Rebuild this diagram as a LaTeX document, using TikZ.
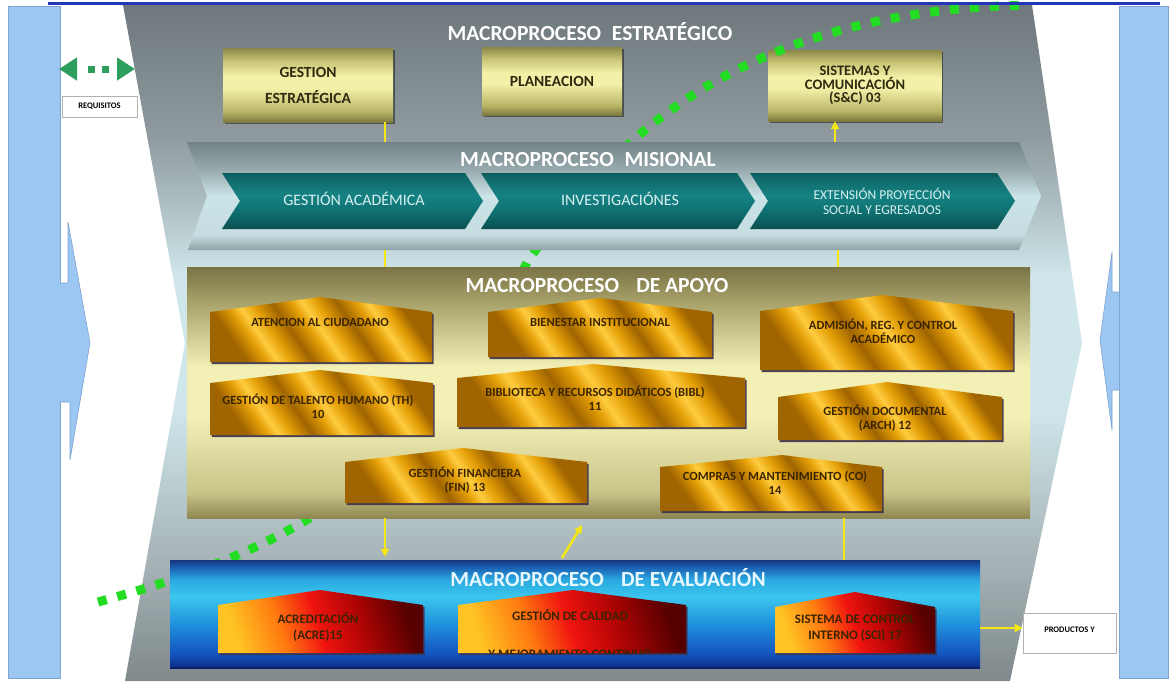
\documentclass[tikz,border=0pt]{standalone}
\usepackage{fontspec}
\setmainfont{Carlito}
\usetikzlibrary{arrows.meta,shadows}

\definecolor{panelblue}{HTML}{9DC7F3}
\definecolor{paneledge}{HTML}{7FA3CF}
\definecolor{topline}{HTML}{2236B8}
\definecolor{reqgreen}{HTML}{2E9E5E}
\definecolor{dotgreen}{HTML}{22DD22}
\definecolor{linkyellow}{HTML}{F3E814}
\definecolor{boxtext}{HTML}{2E2A10}
\definecolor{chevtext}{HTML}{D9F0F0}
\definecolor{housetxt}{HTML}{3A2400}
\definecolor{shadowc}{HTML}{3A2E4A}
\definecolor{evalline}{HTML}{0A1F6A}
% gray main shape
\definecolor{gsA}{HTML}{7F898C}\definecolor{gsB}{HTML}{A3AFB2}
\definecolor{gsC}{HTML}{CFE6EA}\definecolor{gsD}{HTML}{909CA0}
\definecolor{gsE}{HTML}{6E787C}
% misional band
\definecolor{msA}{HTML}{8FA1A4}\definecolor{msB}{HTML}{C5DDE0}
\definecolor{msC}{HTML}{CBE4E7}\definecolor{msD}{HTML}{98ABAF}
\definecolor{msE}{HTML}{728286}
% teal chevrons
\definecolor{tcA}{HTML}{0A4E4F}\definecolor{tcB}{HTML}{0F6F70}
\definecolor{tcC}{HTML}{158283}\definecolor{tcD}{HTML}{106A6B}
\definecolor{tcE}{HTML}{0D5C5D}
% top boxes
\definecolor{tbA}{HTML}{7D7A3E}\definecolor{tbB}{HTML}{B9B567}
\definecolor{tbC}{HTML}{F3F0A8}\definecolor{tbD}{HTML}{CAC577}
\definecolor{tbE}{HTML}{8A8748}
% apoyo
\definecolor{apA}{HTML}{8E8753}\definecolor{apB}{HTML}{C8C387}
\definecolor{apC}{HTML}{F3F0B6}\definecolor{apD}{HTML}{A8A26A}
\definecolor{apE}{HTML}{7A7345}
% evaluation
\definecolor{evA}{HTML}{0B2E86}\definecolor{evB}{HTML}{1455C0}
\definecolor{evC}{HTML}{1F8FDB}\definecolor{evD}{HTML}{3BC6EE}
\definecolor{evE}{HTML}{2AA8E0}\definecolor{evF}{HTML}{1A5CB0}
\definecolor{evG}{HTML}{16357E}
% gold
\definecolor{gdk}{HTML}{A06400}\definecolor{gmid}{HTML}{E39E06}
\definecolor{glt}{HTML}{FFCC40}
% red
\definecolor{rdA}{HTML}{FFC424}\definecolor{rdB}{HTML}{FF7A10}
\definecolor{rdC}{HTML}{F01410}\definecolor{rdD}{HTML}{B00404}
\definecolor{rdE}{HTML}{560000}

\pgfdeclareverticalshading{grayshape}{100bp}{color(0bp)=(gsA); color(25bp)=(gsA); color(33bp)=(gsB); color(45bp)=(gsC); color(55bp)=(gsC); color(65bp)=(gsD); color(75bp)=(gsE); color(100bp)=(gsE)}
\pgfdeclareverticalshading{misband}{100bp}{color(0bp)=(msA); color(25bp)=(msA); color(32bp)=(msB); color(50bp)=(msC); color(62bp)=(msD); color(75bp)=(msE); color(100bp)=(msE)}
\pgfdeclareverticalshading{chevteal}{100bp}{color(0bp)=(tcA); color(25bp)=(tcA); color(40bp)=(tcB); color(55bp)=(tcC); color(70bp)=(tcD); color(75bp)=(tcE); color(100bp)=(tcE)}
\pgfdeclareverticalshading{topbox}{100bp}{color(0bp)=(tbA); color(25bp)=(tbA); color(32bp)=(tbB); color(48bp)=(tbC); color(56bp)=(tbC); color(66bp)=(tbD); color(75bp)=(tbE); color(100bp)=(tbE)}
\pgfdeclareverticalshading{apoyo}{100bp}{color(0bp)=(apA); color(25bp)=(apA); color(30bp)=(apB); color(45bp)=(apC); color(55bp)=(apC); color(68bp)=(apD); color(75bp)=(apE); color(100bp)=(apE)}
\pgfdeclareverticalshading{evalsh}{100bp}{color(0bp)=(evA); color(25bp)=(evA); color(32bp)=(evB); color(45bp)=(evC); color(58bp)=(evD); color(66bp)=(evE); color(72bp)=(evF); color(75bp)=(evG); color(100bp)=(evG)}
\pgfdeclarehorizontalshading{goldstripe}{100bp}{color(0bp)=(gdk); color(25bp)=(gdk); color(30bp)=(gmid); color(33bp)=(glt); color(37bp)=(gmid); color(42bp)=(gdk); color(47bp)=(gmid); color(50bp)=(glt); color(54bp)=(gmid); color(59bp)=(gdk); color(64bp)=(gmid); color(67bp)=(glt); color(71bp)=(gmid); color(75bp)=(gdk); color(100bp)=(gdk)}
\pgfdeclarehorizontalshading{redsh}{100bp}{color(0bp)=(rdA); color(25bp)=(rdA); color(38bp)=(rdB); color(49bp)=(rdC); color(61bp)=(rdD); color(75bp)=(rdE); color(100bp)=(rdE)}

\newcommand{\mkhouse}[7]{\path[#1] (#2,#7) -- (#2,#4) -- (#5,#6) -- (#3,#4) -- (#3,#7) -- cycle;}
\newcommand{\mkchev}[2]{\path[chev] (#1,173) -- ({#2-18},173) -- (#2,201) -- ({#2-18},229) -- (#1,229) -- ({#1+18},201) -- cycle;}

\tikzset{
  ttl/.style={text=white, font=\bfseries\fontsize{21.5}{24}\selectfont, inner sep=0pt},
  topboxst/.style={shading=topbox, draw=none, inner sep=2pt, align=center, text=boxtext,
    font=\bfseries\fontsize{15.5}{17}\selectfont,
    drop shadow={shadow xshift=1.5pt, shadow yshift=-1.5pt, opacity=0.45, fill=black}},
  chev/.style={shading=chevteal, draw=none},
  chevtxt/.style={text=chevtext, font=\fontsize{16}{18}\selectfont, align=center, inner sep=0pt},
  goldhouse/.style={shading=goldstripe, shading angle=35,
    drop shadow={shadow xshift=1.5pt, shadow yshift=-2pt, fill=shadowc, opacity=0.9}},
  redhouse/.style={shading=redsh, shading angle=18,
    drop shadow={shadow xshift=1.5pt, shadow yshift=-2pt, fill=shadowc, opacity=0.8}},
  housetext/.style={text=housetxt, font=\bfseries\fontsize{12.5}{14}\selectfont, align=center, inner sep=0pt},
  evaltext/.style={housetext, font=\bfseries\fontsize{13}{16}\selectfont},
  link/.style={draw=linkyellow, line width=2.5pt},
  linkarrow/.style={link, -{Triangle[length=8pt,width=8pt]}},
  smallbox/.style={draw=black!30, fill=white, line width=0.6pt, inner sep=0pt,
    font=\bfseries\fontsize{8.5}{10}\selectfont},
  greendots/.style={draw=dotgreen, line width=9pt, line cap=butt, dash pattern=on 9pt off 11pt},
  panel/.style={fill=panelblue, draw=paneledge, line width=0.6pt},
}

\begin{document}
\begin{tikzpicture}[x=1pt,y=-1pt]
\useasboundingbox (0,0) rectangle (1171,681);
\fill[white] (0,0) rectangle (1171,681);

% main gray shape
\path[shading=grayshape] (123,5) -- (1032,5) -- (1082,343) -- (1010,681) -- (125,681) -- (185,343) -- cycle;

% side panels
\path[panel] (8,6) rectangle (60,678);
\fill[panelblue] (60,283) -- (68,283) -- (68,222) -- (90,343) -- (70,460) -- (70,402) -- (60,402) -- cycle;
\draw[paneledge, line width=0.6pt] (60,283) -- (68,283) -- (68,222) -- (90,343) -- (70,460) -- (70,402) -- (60,402);
\path[panel] (1119,6) rectangle (1168,678);
\fill[panelblue] (1119,292) -- (1112,292) -- (1112,252) -- (1100,340) -- (1112,430) -- (1112,390) -- (1119,390) -- cycle;
\draw[paneledge, line width=0.6pt] (1119,292) -- (1112,292) -- (1112,252) -- (1100,340) -- (1112,430) -- (1112,390) -- (1119,390);

% requisitos
\coordinate (reqL) at (59,69);
\coordinate (reqR) at (135,69);
\draw[reqgreen, line width=7pt, dash pattern=on 0pt off 12pt on 7pt off 7pt on 7pt off 60pt,
  {Triangle[length=18pt,width=22pt]}-{Triangle[length=18pt,width=22pt]}] (reqL) -- (reqR);
\node[smallbox, minimum width=75pt, minimum height=21pt] (requisitos) at (99.5,106.5) {REQUISITOS};

% title estrategico
\node[ttl] (tEstr) at (590,32) {MACROPROCESO\hspace{0.5em}ESTRATÉGICO};

% top boxes
\node[topboxst, minimum width=170pt, minimum height=74pt] (gestest) at (308,85) {GESTION\\[9pt]ESTRATÉGICA};
\node[topboxst, minimum width=140pt, minimum height=68pt] (planea) at (552,81) {PLANEACION};
\node[topboxst, minimum width=173pt, minimum height=71pt, font=\bfseries\fontsize{14.5}{13.5}\selectfont] (sistemas) at (855,85.5) {SISTEMAS Y\\COMUNICACIÓN\\(S\&C) 03};

% green dotted curve
\coordinate (dA) at (98,602);
\coordinate (dB) at (527,262);
\coordinate (dC) at (1030,5);
\draw[greendots] (dA) .. controls (250,560) and (420,500) .. (dB) .. controls (600,160) and (720,10) .. (dC);

% misional band
\path[shading=misband] (187,142) -- (1019,142) -- (1041,196) -- (1019,250) -- (188,250) -- (207,196) -- cycle;
\coordinate (misTop1) at (385,142);
\coordinate (misTop2) at (835,142);
\coordinate (misBot1) at (385,250);
\coordinate (misBot2) at (838,250);
\node[ttl] (tMis) at (588,160) {MACROPROCESO\hspace{0.5em}MISIONAL};
\mkchev{222}{483}
\mkchev{481}{755}
\mkchev{750}{1015}
\node[chevtxt] (acad) at (354,199) {GESTIÓN ACADÉMICA};
\node[chevtxt] (invest) at (620,199) {INVESTIGACIÓNES};
\node[chevtxt, font=\fontsize{13.5}{15}\selectfont] (extension) at (882,201) {EXTENSIÓN PROYECCIÓN\\SOCIAL Y EGRESADOS};

% apoyo
\node[shading=apoyo, minimum width=843pt, minimum height=251pt, inner sep=0pt] (apoyo) at (608.5,392.5) {};
\node[ttl] (tApoyo) at (597,286) {MACROPROCESO\hspace{0.8em}DE APOYO};

\mkhouse{goldhouse}{210}{432}{312}{320}{297}{362}
\mkhouse{goldhouse}{488}{712}{312}{600}{298}{357}
\mkhouse{goldhouse}{760}{1013}{311}{883}{295}{370}
\mkhouse{goldhouse}{210}{433}{383}{320}{370}{435}
\mkhouse{goldhouse}{457}{745}{378}{593}{364}{427}
\mkhouse{goldhouse}{778}{1002}{397}{887}{382}{440}
\mkhouse{goldhouse}{345}{587}{462}{463}{448}{503}
\mkhouse{goldhouse}{660}{882}{467}{782}{455}{511}

\node[housetext] (atencion) at (320,322) {ATENCION AL CIUDADANO};
\node[housetext] (bienestar) at (600,322) {BIENESTAR INSTITUCIONAL};
\node[housetext] (admision) at (883,331) {ADMISIÓN, REG. Y CONTROL\\ACADÉMICO};
\node[housetext] (talento) at (318,406) {GESTIÓN DE TALENTO HUMANO (TH)\\10};
\node[housetext] (biblio) at (595,398) {BIBLIOTECA Y RECURSOS DIDÁTICOS (BIBL)\\11};
\node[housetext] (documental) at (885,418) {GESTIÓN DOCUMENTAL\\(ARCH) 12};
\node[housetext] (financiera) at (465,480) {GESTIÓN FINANCIERA\\(FIN) 13};
\node[housetext] (compras) at (775,483) {COMPRAS Y MANTENIMIENTO (CO)\\14};

% evaluation
\node[shading=evalsh, minimum width=810pt, minimum height=108pt, inner sep=0pt] (eval) at (575,614) {};
\draw[evalline, line width=1.5pt] (eval.south west) -- (eval.south east);
\node[ttl, text=white!90!cyan] (tEval) at (608,578) {MACROPROCESO\hspace{0.8em}DE EVALUACIÓN};

\mkhouse{redhouse}{218}{423}{605}{320}{590}{653}
\mkhouse{redhouse}{458}{686}{605}{573}{590}{653}
\mkhouse{redhouse}{775}{935}{607}{855}{592}{653}
\node[evaltext] (acred) at (318,627) {ACREDITACIÓN\\(ACRE)15};
\begin{scope}
  \clip (458,653) -- (458,605) -- (573,590) -- (686,605) -- (686,653) -- cycle;
  \node[evaltext] (calidad) at (570,634) {GESTIÓN DE CALIDAD\\[22pt]Y MEJORAMIENTO CONTINUO};
\end{scope}
\node[evaltext] (sci) at (855,628) {SISTEMA DE CONTROL\\INTERNO (SCI) 17};

% productos
\node[smallbox, minimum width=93pt, minimum height=40pt, text depth=6pt] (productos) at (1069.5,633) {PRODUCTOS Y};

% yellow connectors
\coordinate (x385) at (385,0);
\coordinate (x844) at (844,0);
\coordinate (y628) at (0,628);
\draw[link] (gestest.south -| x385) -- (misTop1);
\draw[linkarrow] (misTop2) -- (sistemas.south -| misTop2);
\draw[link] (misBot1) -- (apoyo.north -| misBot1);
\draw[link] (misBot2) -- (apoyo.north -| misBot2);
\draw[linkarrow] (apoyo.south -| x385) -- ([yshift=3pt]eval.north -| x385);
\coordinate (diagS) at (562,558);
\coordinate (diagE) at (582,525);
\draw[linkarrow] (diagS) -- (diagE);
\draw[link] (apoyo.south -| x844) -- (eval.north -| x844);
\draw[linkarrow] (eval.east |- y628) -- (productos.west |- y628);

% top blue line
\coordinate (tlA) at (48,3);
\coordinate (tlB) at (1160,3);
\draw[topline, line width=3pt] (tlA) -- (tlB);
\end{tikzpicture}
\end{document}
